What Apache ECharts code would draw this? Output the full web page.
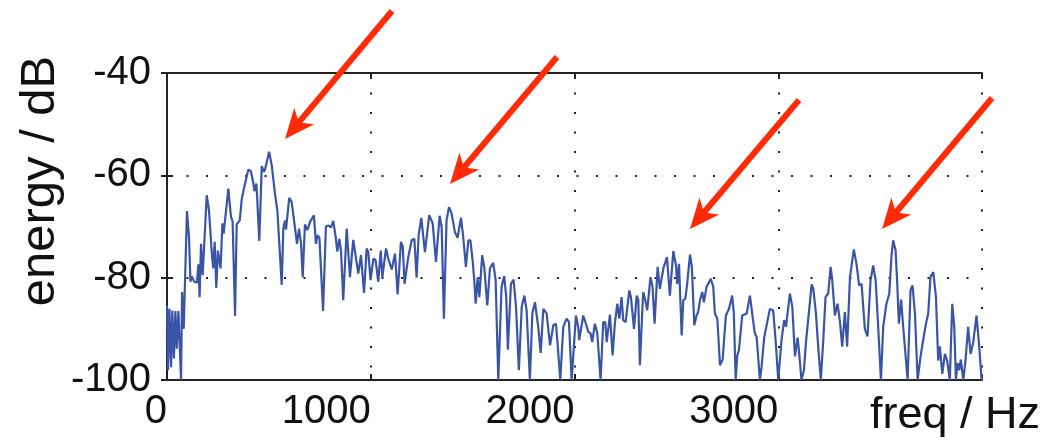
<!DOCTYPE html>
<html>
<head>
<meta charset="utf-8">
<script src="https://cdn.jsdelivr.net/npm/echarts@6/dist/echarts.min.js"></script>
<style>
  html, body { margin: 0; padding: 0; background: #fff; }
  #main { width: 1048px; height: 441px; }
</style>
</head>
<body>
<div id="main"></div>
<script>
// spectrum: frequency (Hz) and energy (dB)
var freq = [
  0, 5, 12, 20, 26, 34, 41, 48, 56, 62, 69, 74, 82, 98, 108, 115, 121, 134, 147, 154,
  160, 167, 175, 195, 206, 219, 227, 234, 242, 250, 259, 263, 272, 278, 301, 314, 322, 334, 342, 357,
  367, 383, 399, 412, 424, 429, 439, 453, 465, 475, 481, 501, 514, 530, 542, 551, 563, 571, 579, 584,
  600, 612, 628, 638, 648, 658, 666, 677, 689, 702, 708, 721, 731, 738, 748, 766, 780, 793, 805, 816,
  828, 836, 846, 854, 865, 882, 898, 914, 923, 939, 952, 967, 980, 988, 999, 1013, 1024, 1037, 1049, 1057,
  1075, 1086, 1103, 1119, 1132, 1148, 1157, 1166, 1184, 1201, 1214, 1225, 1235, 1248, 1266, 1287, 1304, 1320, 1338, 1348,
  1359, 1372, 1384, 1397, 1413, 1426, 1443, 1454, 1467, 1479, 1489, 1500, 1508, 1515, 1525, 1533, 1547, 1557, 1572, 1585,
  1601, 1613, 1626, 1642, 1655, 1665, 1673, 1688, 1701, 1713, 1727, 1741, 1754, 1765, 1781, 1793, 1806, 1822, 1834, 1847,
  1863, 1880, 1896, 1909, 1917, 1930, 1945, 1961, 1973, 1986, 2007, 2018, 2023, 2043, 2056, 2068, 2079, 2087, 2100, 2112,
  2128, 2141, 2151, 2158, 2174, 2187, 2198, 2210, 2220, 2231, 2239, 2251, 2269, 2277, 2292, 2305, 2313, 2321, 2337, 2346,
  2357, 2373, 2383, 2393, 2408, 2419, 2436, 2454, 2468, 2485, 2498, 2504, 2513, 2526, 2534, 2544, 2553, 2567, 2576, 2588,
  2599, 2607, 2616, 2627, 2635, 2648, 2669, 2681, 2689, 2701, 2714, 2727, 2743, 2758, 2774, 2782, 2791, 2799, 2807, 2823,
  2845, 2861, 2872, 2885, 2894, 2910, 2918, 2931, 2939, 2959, 2975, 2987, 3000, 3016, 3029, 3038, 3057, 3069, 3082, 3095,
  3103, 3114, 3126, 3136, 3144, 3164, 3172, 3185, 3196, 3209, 3221, 3232, 3245, 3257, 3265, 3278, 3291, 3303, 3314, 3327,
  3338, 3352, 3371, 3384, 3397, 3409, 3425, 3438, 3453, 3466, 3478, 3491, 3504, 3515, 3531, 3545, 3556, 3564, 3576, 3584,
  3592, 3603, 3613, 3621, 3635, 3649, 3659, 3671, 3684, 3698, 3711, 3725, 3736, 3747, 3761, 3774, 3785, 3793, 3805, 3818,
  3829, 3842, 3854, 3864, 3872, 3880, 3888, 3896, 3908, 3919, 3932, 3944, 3957, 3973, 3986, 3998
];
var energy = [
  -85.4, -98.1, -86.1, -97.5, -86.4, -95.8, -86.5, -93.9, -86.5, -92.9, -100, -82.8, -90.0, -67.0, -72.1, -80.8, -79.7, -80.8, -81.0, -77.4,
  -83.8, -73.4, -79.5, -63.9, -66.8, -74.7, -78.2, -73.0, -82.0, -74.7, -74.7, -78.2, -69.4, -71.4, -62.6, -68.1, -69.0, -87.5, -69.6, -68.8,
  -64.6, -61.6, -58.9, -59.2, -61.6, -63.1, -61.6, -72.8, -58.2, -59.3, -58.9, -55.4, -58.0, -63.6, -67.0, -67.2, -81.4, -70.4, -68.8, -70.6,
  -64.4, -65.2, -70.2, -73.4, -70.4, -73.4, -79.9, -69.6, -70.7, -69.1, -69.4, -67.8, -73.4, -71.7, -72.2, -86.5, -70.0, -69.8, -70.2, -68.9,
  -72.1, -74.9, -72.4, -74.7, -84.4, -70.4, -79.9, -72.6, -72.7, -79.2, -75.6, -83.0, -74.3, -75.0, -80.5, -76.3, -76.6, -80.8, -74.7, -79.9,
  -74.3, -76.3, -78.4, -75.3, -83.3, -73.0, -73.9, -81.2, -76.0, -72.7, -72.4, -80.0, -71.7, -68.3, -75.0, -67.8, -69.4, -76.9, -67.9, -70.1,
  -88.0, -68.8, -66.2, -67.5, -71.1, -72.2, -68.3, -72.1, -77.9, -72.7, -72.7, -76.6, -80.5, -85.1, -79.9, -83.8, -75.6, -77.9, -85.4, -78.2,
  -77.1, -80.5, -100, -81.8, -79.7, -83.8, -94.1, -81.2, -80.4, -85.7, -98.1, -85.7, -83.5, -86.4, -100, -87.0, -84.8, -89.6, -94.7, -86.1,
  -87.0, -93.2, -89.3, -89.0, -92.9, -100, -89.6, -88.0, -88.7, -100, -87.4, -89.6, -92.2, -87.4, -89.0, -90.6, -90.9, -92.6, -89.0, -90.9,
  -100, -88.7, -88.7, -92.6, -87.2, -95.2, -89.0, -85.1, -88.0, -83.8, -88.3, -88.7, -82.5, -83.8, -90.0, -83.5, -84.4, -97.1, -82.8, -84.1,
  -86.4, -79.9, -81.8, -89.0, -77.9, -82.2, -78.2, -76.0, -83.5, -74.8, -77.6, -81.2, -77.3, -91.3, -84.4, -84.1, -81.2, -75.5, -77.9, -89.3,
  -87.4, -86.7, -84.4, -82.8, -84.8, -81.8, -80.2, -81.8, -87.0, -88.0, -97.1, -96.0, -87.4, -86.1, -83.5, -87.0, -100, -95.2, -94.2, -87.4,
  -87.0, -83.5, -87.0, -90.9, -91.6, -100, -97.5, -91.7, -91.6, -86.1, -86.4, -92.2, -100, -92.2, -88.3, -89.6, -83.1, -85.7, -95.4, -91.7,
  -94.9, -100, -98.1, -92.6, -92.9, -81.3, -82.2, -87.0, -93.5, -100, -92.2, -83.8, -83.1, -77.9, -80.5, -87.4, -85.1, -88.7, -93.5, -86.7,
  -93.5, -79.9, -74.5, -77.3, -81.5, -81.2, -90.0, -91.5, -80.5, -77.6, -80.5, -90.0, -100, -89.6, -85.1, -83.1, -75.6, -72.7, -74.7, -81.2,
  -89.0, -84.3, -89.5, -89.6, -100, -82.5, -81.5, -87.0, -100, -95.5, -92.2, -89.0, -87.0, -79.9, -78.9, -83.8, -96.2, -93.4, -98.8, -94.9,
  -96.2, -100, -85.1, -89.6, -100, -96.7, -98.1, -96.0, -100, -96.2, -89.6, -94.9, -92.6, -87.4, -93.2, -100
];
var xRange = [0, 4000];
var yRange = [-100, -40];

// red arrows pointing at the four formant peaks, [tailX, tailY, tipX, tipY] in pixels
var arrows = [
  [392, 11, 285, 139],
  [557, 57, 450, 184],
  [799, 100, 690, 229],
  [992, 98, 882, 229]
];

var chart = echarts.init(document.getElementById('main'));
var FONT = '"Liberation Sans", Arial, Helvetica, sans-serif';
var INK = '#111';
var RED = '#ff2b06';

function arrowGraphics(a) {
  var dx = a[2] - a[0], dy = a[3] - a[1];
  var len = Math.sqrt(dx * dx + dy * dy);
  var ux = dx / len, uy = dy / len;
  var nx = -uy, ny = ux;
  var L = 30, W = 13;
  var bx = a[2] - L * ux, by = a[3] - L * uy;
  var mx = a[2] - 0.72 * L * ux, my = a[3] - 0.72 * L * uy;
  return [
    { type: 'line', z: 100, shape: { x1: a[0], y1: a[1], x2: mx, y2: my },
      style: { stroke: RED, lineWidth: 6 } },
    { type: 'polygon', z: 100,
      shape: { points: [[a[2], a[3]], [bx + W * nx, by + W * ny], [mx, my], [bx - W * nx, by - W * ny]] },
      style: { fill: RED } }
  ];
}

var graphics = [];
arrows.forEach(function (a) { graphics = graphics.concat(arrowGraphics(a)); });
graphics.push({
  type: 'text', x: 40, y: 181, rotation: Math.PI / 2,
  style: { text: 'energy / dB', fontSize: 49, fontFamily: FONT, fill: INK, align: 'center', verticalAlign: 'middle' }
});
graphics.push({
  type: 'text', x: 1040, y: 416,
  style: { text: 'freq / Hz', fontSize: 45, fontFamily: FONT, fill: INK, align: 'right', verticalAlign: 'middle' }
});

var dotted = { color: '#222', width: 2, type: [2, 17.5] };
var frame = { show: true, lineStyle: { color: '#222', width: 2 } };
var tick = { show: true, inside: true, length: 6, lineStyle: { color: '#222', width: 2 } };

var option = {
  animation: false,
  grid: { left: 167, right: 66, top: 73, bottom: 61 },
  xAxis: [
    {
      type: 'value', min: xRange[0], max: xRange[1], interval: 1000, position: 'bottom',
      axisLine: frame, axisTick: tick,
      splitLine: { show: true, lineStyle: dotted },
      axisLabel: {
        color: INK, fontSize: 40, fontFamily: FONT, margin: 12, align: 'right',
        formatter: function (v) { return v === xRange[1] ? '' : String(v); }
      }
    },
    {
      type: 'value', min: xRange[0], max: xRange[1], interval: 1000, position: 'top',
      axisLine: frame, axisTick: tick, splitLine: { show: false }, axisLabel: { show: false }
    }
  ],
  yAxis: [
    {
      type: 'value', min: yRange[0], max: yRange[1], interval: 20, position: 'left',
      axisLine: frame, axisTick: tick,
      splitLine: { show: true, lineStyle: dotted },
      axisLabel: { color: INK, fontSize: 40, fontFamily: FONT, margin: 16 }
    },
    {
      type: 'value', min: yRange[0], max: yRange[1], interval: 20, position: 'right',
      axisLine: frame, axisTick: tick, splitLine: { show: false }, axisLabel: { show: false }
    }
  ],
  series: [{
    type: 'line',
    data: freq.map(function (f, i) { return [f, energy[i]]; }),
    showSymbol: false,
    clip: true,
    lineStyle: { color: '#3a55a6', width: 2.2 }
  }],
  graphic: graphics
};

chart.setOption(option);
</script>
</body>
</html>
